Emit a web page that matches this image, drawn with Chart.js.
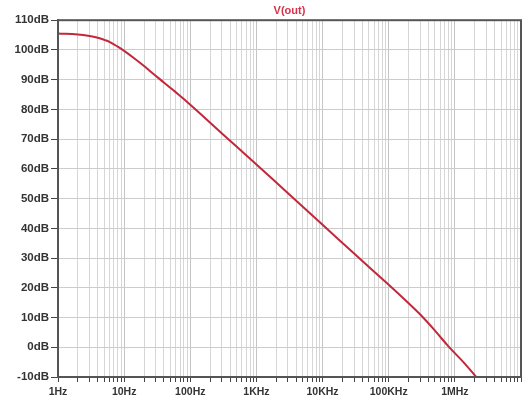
<!DOCTYPE html>
<html>
<head>
<meta charset="utf-8">
<script src="https://cdn.jsdelivr.net/npm/chart.js@4.4.1/dist/chart.umd.min.js"></script>
<style>
html,body{margin:0;padding:0;background:#fff;}
#wrap{width:526px;height:405px;position:relative;}
</style>
</head>
<body>
<div id="wrap"><canvas id="c" width="526" height="405"></canvas></div>
<script>
// Frequencies (Hz) and gain (dB)
const freqs = [1, 2, 3, 4, 5, 6, 8, 10, 14, 20, 24, 35, 55, 100, 200, 500, 1000, 3000, 10000, 30000, 100000, 200000, 300000, 500000, 800000, 1400000, 2100000];
const gainDb = [105.5, 105.2, 104.7, 104.1, 103.4, 102.7, 101.1, 99.7, 97.3, 94.6, 93.1, 90.1, 86.5, 81.6, 75.5, 67.5, 61.5, 51.8, 41.2, 31.5, 21, 14.8, 11, 5.6, 0.3, -5.4, -10];
const seriesName = 'V(out)';
const yTicks = [-10, 0, 10, 20, 30, 40, 50, 60, 70, 80, 90, 100, 110];
const decadeLabels = {1:'1Hz', 10:'10Hz', 100:'100Hz', 1000:'1KHz', 10000:'10KHz', 100000:'100KHz', 1000000:'1MHz'};

const points = freqs.map((f, i) => ({x: f, y: gainDb[i]}));

const isDecade = v => Math.abs(Math.log10(v) - Math.round(Math.log10(v))) < 1e-9;

const frame = {
  id: 'frame',
  afterDraw(chart) {
    const a = chart.chartArea, ctx = chart.ctx;
    ctx.save();
    ctx.strokeStyle = '#555';
    ctx.lineWidth = 2;
    ctx.strokeRect(a.left, a.top, a.right - a.left, a.bottom - a.top);
    ctx.restore();
  }
};

new Chart(document.getElementById('c'), {
  type: 'line',
  data: {
    datasets: [{
      label: seriesName,
      data: points,
      borderColor: '#c2283a',
      borderWidth: 2,
      pointRadius: 0,
      tension: 0.4,
      fill: false
    }]
  },
  options: {
    responsive: false,
    animation: false,
    layout: {padding: {left: 0, right: 5, top: 0, bottom: 0}},
    plugins: {
      legend: {display: false},
      tooltip: {enabled: false},
      title: {
        display: true,
        text: seriesName,
        color: '#d8324a',
        fullSize: false,
        font: {family: 'Liberation Sans', size: 11, weight: 'bold'},
        padding: {top: 4, bottom: 3}
      }
    },
    scales: {
      x: {
        type: 'logarithmic',
        min: 1,
        max: 1e7,
        afterBuildTicks(scale) {
          const t = [];
          for (let d = 1; d < 1e7; d *= 10) {
            for (let m = 1; m < 10; m++) t.push({value: d * m});
          }
          t.push({value: 1e7});
          scale.ticks = t;
        },
        afterFit(scale) { scale.height = 28; },
        ticks: {
          autoSkip: false,
          maxRotation: 0,
          padding: 4,
          color: '#333',
          font: {family: 'Liberation Sans', size: 10.5, weight: 'bold'},
          callback: (v) => decadeLabels[v] !== undefined ? decadeLabels[v] : ''
        },
        grid: {
          color: (ctx) => (ctx.tick && isDecade(ctx.tick.value)) ? '#c4c4c4' : '#d6d6d6',
          lineWidth: 1,
          tickLength: 5,
          tickColor: '#444',
          drawOnChartArea: true
        },
        border: {color: '#555', width: 2}
      },
      y: {
        type: 'linear',
        min: -10,
        max: 110,
        afterBuildTicks(scale) { scale.ticks = yTicks.map(v => ({value: v})); },
        afterFit(scale) { scale.width = 58; },
        ticks: {
          padding: 2,
          color: '#333',
          font: {family: 'Liberation Sans', size: 11.5, weight: 'bold'},
          callback: (v) => v + 'dB'
        },
        grid: {
          color: '#cccccc',
          lineWidth: 1,
          tickLength: 7,
          tickColor: '#444'
        },
        border: {color: '#555', width: 2}
      }
    }
  },
  plugins: [frame]
});
</script>
</body>
</html>
